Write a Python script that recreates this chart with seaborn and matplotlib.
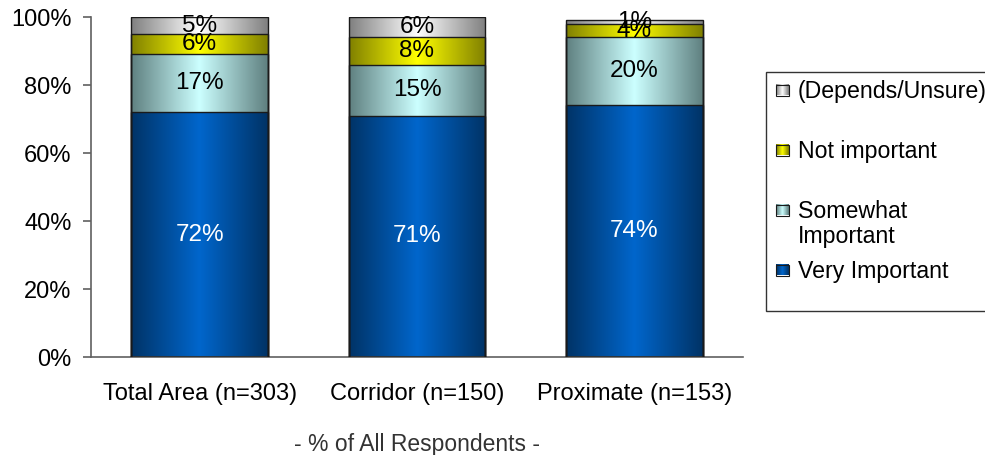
import numpy as np
import pandas as pd
import seaborn as sns
import matplotlib.pyplot as plt
from matplotlib.colors import to_rgb
from matplotlib.patches import Rectangle

# datos (porcentajes)
categories = ['Total Area (n=303)', 'Corridor (n=150)', 'Proximate (n=153)']
very_important = [72, 71, 74]
somewhat_important = [17, 15, 20]
not_important = [6, 8, 4]
depends_unsure = [5, 6, 1]

series_names = ['Very Important', 'Somewhat\nImportant', 'Not important', '(Depends/Unsure)']
center_colors = ['#0066CC', '#CCFFFF', '#FFFF00', '#FFFFFF']
edge_colors = ['#003366', '#5F8080', '#808000', '#808080']
text_colors = ['white', 'black', 'black', 'black']
y_ticks = [0, 20, 40, 60, 80, 100]

df = pd.DataFrame({
    'category': categories,
    'Very Important': very_important,
    'Somewhat\nImportant': somewhat_important,
    'Not important': not_important,
    '(Depends/Unsure)': depends_unsure,
})
# acumulados para apilar
cum = df[series_names].cumsum(axis=1)
for name in series_names:
    df['cum_' + name] = cum[name]

sns.set_theme(style='white')
plt.rcParams['font.family'] = ['Liberation Sans', 'DejaVu Sans']

fig = plt.figure(figsize=(9.85, 4.55), dpi=100)
ax = fig.add_axes([91 / 985, 98 / 455, 652 / 985, 340 / 455])


def gradient(center, edge, n=200):
    u = np.linspace(0, 1, n)
    t = 1 - np.abs(2 * u - 1)
    c = np.array(to_rgb(center))
    e = np.array(to_rgb(edge))
    return (e[None, :] + (c - e)[None, :] * t[:, None])[None, :, :]


# dibujo de arriba hacia abajo, cada capa tapa a la anterior
layers = {}
for i in reversed(range(len(series_names))):
    name = series_names[i]
    n_before = len(ax.patches)
    sns.barplot(x='category', y='cum_' + name, data=df, ax=ax, width=0.63,
                color=center_colors[i], edgecolor='#1a1a1a', linewidth=1.0,
                zorder=3)
    layers[i] = ax.patches[n_before:]

for i, name in enumerate(series_names):
    for j, p in enumerate(layers[i]):
        p.set_facecolor('none')
        top = p.get_height()
        bottom = layers[i - 1][j].get_height() if i > 0 else 0
        x0 = p.get_x()
        w = p.get_width()
        ax.imshow(gradient(center_colors[i], edge_colors[i]),
                  extent=[x0, x0 + w, bottom, top], aspect='auto',
                  interpolation='bilinear', zorder=1)
        val = df[name].iloc[j]
        ax.text(x0 + w / 2, (bottom + top) / 2, f'{val}%', ha='center',
                va='center', fontsize=17.5, color=text_colors[i], zorder=4)

ax.set_xlim(-0.5, 2.5)
ax.set_ylim(0, 100)
ax.set_yticks(y_ticks)
ax.set_yticklabels([f'{v}%' for v in y_ticks])
ax.set_ylabel('')
ax.set_xlabel('- % of All Respondents -', fontsize=16.5, color='#333333', labelpad=20)

for s in ['top', 'right']:
    ax.spines[s].set_visible(False)
for s in ['left', 'bottom']:
    ax.spines[s].set_color('#606060')
    ax.spines[s].set_linewidth(1.2)

ax.set_xticks([-0.5, 0.5, 1.5, 2.5], minor=True)
ax.tick_params(axis='x', which='major', length=0, pad=19, labelsize=17, labelcolor='black')
ax.tick_params(axis='x', which='minor', length=6, width=1.2, color='#606060', direction='out')
ax.tick_params(axis='y', length=6, width=1.2, color='#606060', direction='out',
               pad=8, labelsize=17, labelcolor='black', left=True)

# leyenda dibujada a mano en pixeles de la figura
lax = fig.add_axes([0, 0, 1, 1])
lax.set_xlim(0, 985)
lax.set_ylim(455, 0)
lax.axis('off')
lax.add_patch(Rectangle((766, 72), 260, 239, facecolor='white',
                        edgecolor='#333333', linewidth=1.0))
legend_rows = [90, 150, 210, 270]
legend_order = [3, 2, 1, 0]
for row_y, i in zip(legend_rows, legend_order):
    lax.imshow(gradient(center_colors[i], edge_colors[i], 20),
               extent=[776, 789, row_y + 5.5, row_y - 5.5], aspect='auto',
               interpolation='bilinear', zorder=2)
    lax.add_patch(Rectangle((776, row_y - 5.5), 13, 11, facecolor='none',
                            edgecolor='#1a1a1a', linewidth=0.8, zorder=3))
    lax.text(798, row_y - 10, series_names[i], ha='left', va='top',
             fontsize=16.7, color='black', linespacing=1.1)
lax.set_xlim(0, 985)
lax.set_ylim(455, 0)

fig.savefig('out.png', dpi=100)
